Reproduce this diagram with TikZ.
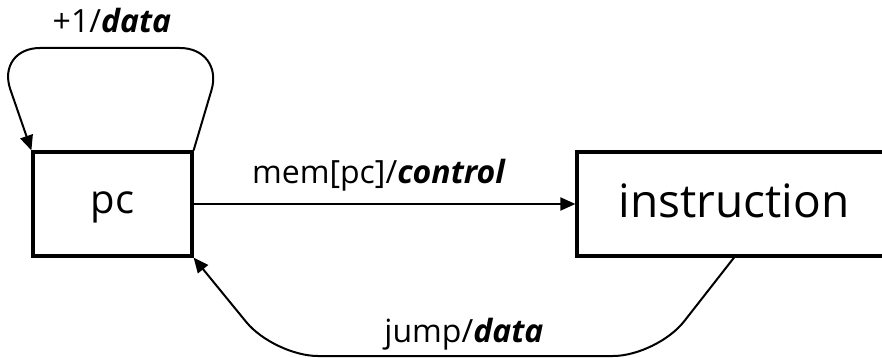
\documentclass[tikz,border=0pt]{standalone}
\usepackage{fontspec}
\setmainfont{Open Sans}
\usetikzlibrary{arrows.meta}
\begin{document}
\begin{tikzpicture}[x=1pt,y=-1pt,
  box/.style={draw,line width=3.2pt,inner sep=0pt},
  conn/.style={line width=2pt,rounded corners=44pt,-{Triangle[length=15pt,width=13pt]}},
  lbl/.style={anchor=base,font=\fontsize{32}{34}\selectfont,inner sep=0pt},
  big/.style={anchor=base,inner sep=0pt}]
\useasboundingbox (0,0) rectangle (882,358);
\clip (0,0) rectangle (882,358);
\node[box,minimum width=159pt,minimum height=104pt] (pc) at (112.5,204) {};
\node[box,minimum width=314pt,minimum height=104pt] (ins) at (734,204) {};
\node[big,font=\fontsize{40}{44}\selectfont] (pct) at (112.5,213) {pc};
\node[big,font=\fontsize{46}{50}\selectfont] (inst) at (734,217) {instruction};
\draw[conn] (pc.north east) -- (224,48) -- (-4,48) -- (pc.north west);
\draw[conn] (pc.east) -- (ins.west);
\draw[conn] (ins.south) -- (657,356) -- (274,356) -- (pc.south east);
\node[lbl] (l1) at (112,33) {+1/\textbf{\textit{data}}};
\node[lbl] (l2) at (379,183) {mem[pc]/\textbf{\textit{control}}};
\node[lbl] (l3) at (464,342) {jump/\textbf{\textit{data}}};
\end{tikzpicture}
\end{document}
